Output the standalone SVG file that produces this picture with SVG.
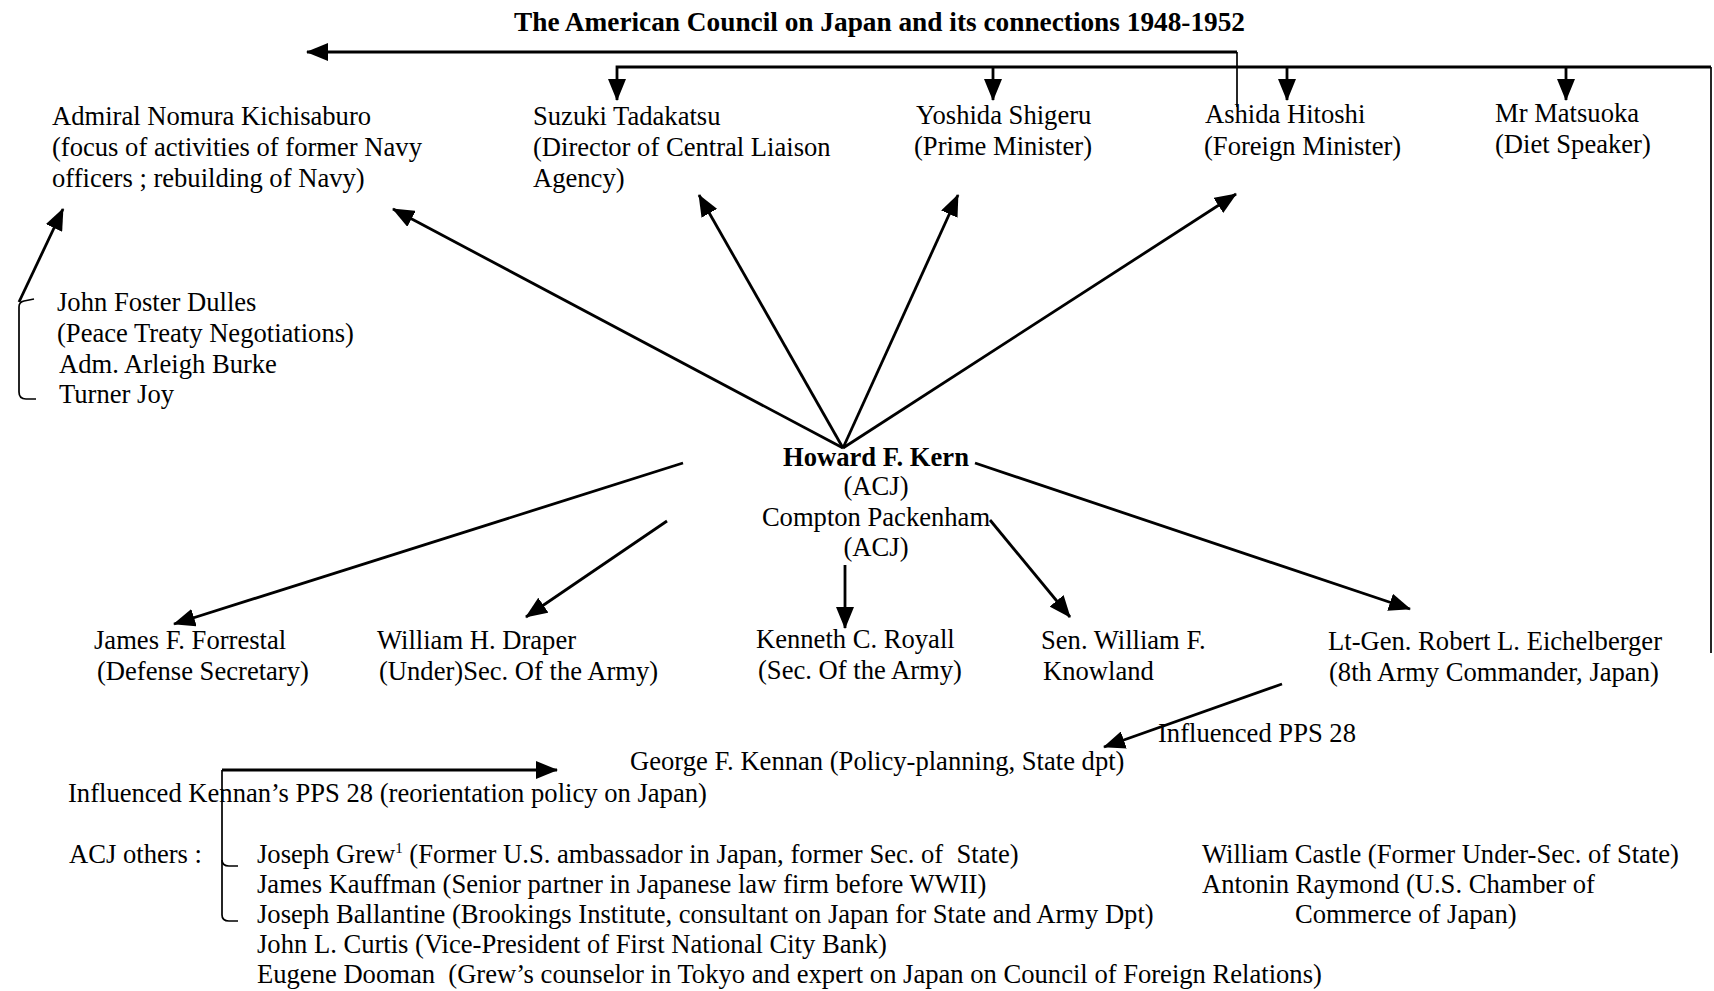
<svg xmlns="http://www.w3.org/2000/svg" width="1714" height="991" viewBox="0 0 1714 991">
<style>
.t{font-family:"Liberation Serif","Times New Roman",serif;font-size:26.6px;fill:#000}
.b{font-weight:bold}
.c{text-anchor:middle}
.pre{white-space:pre}
.ln{stroke:#000;stroke-width:2.8;fill:none}
.th{stroke:#000;stroke-width:1.7;fill:none}
</style>
<defs>
<marker id="ah" viewBox="0 0 22 18" refX="21" refY="9" markerWidth="22" markerHeight="18" markerUnits="userSpaceOnUse" orient="auto">
<path d="M0,0 L22,9 L0,18 z" fill="#000"/>
</marker>
</defs>
<rect width="1714" height="991" fill="#fff"/>

<g id="title"><text class="t b" x="514" y="31" style="font-size:27.3px">The American Council on Japan and its connections 1948-1952</text></g>

<g id="n-nomura" class="t">
<text x="52" y="125">Admiral Nomura Kichisaburo</text>
<text x="52" y="156">(focus of activities of former Navy</text>
<text x="52" y="187">officers ; rebuilding of Navy)</text>
</g>
<g id="n-suzuki" class="t">
<text x="533" y="125">Suzuki Tadakatsu</text>
<text x="533" y="156">(Director of Central Liaison</text>
<text x="533" y="187">Agency)</text>
</g>
<g id="n-yoshida" class="t">
<text x="916" y="124">Yoshida Shigeru</text>
<text x="914" y="155">(Prime Minister)</text>
</g>
<g id="n-ashida" class="t">
<text x="1205" y="123">Ashida Hitoshi</text>
<text x="1204" y="155">(Foreign Minister)</text>
</g>
<g id="n-matsuoka" class="t">
<text x="1495" y="122">Mr Matsuoka</text>
<text x="1495" y="153">(Diet Speaker)</text>
</g>
<g id="n-dulles" class="t">
<text x="57" y="311">John Foster Dulles</text>
<text x="57" y="342">(Peace Treaty Negotiations)</text>
<text x="59" y="373">Adm. Arleigh Burke</text>
<text x="59" y="403">Turner Joy</text>
</g>
<g id="n-kern" class="t c">
<text class="b" x="876" y="466">Howard F. Kern</text>
<text x="876" y="495">(ACJ)</text>
<text x="876" y="526">Compton Packenham</text>
<text x="876" y="556">(ACJ)</text>
</g>
<g id="n-forrestal" class="t">
<text x="94" y="649">James F. Forrestal</text>
<text x="97" y="680">(Defense Secretary)</text>
</g>
<g id="n-draper" class="t">
<text x="377" y="649">William H. Draper</text>
<text x="379" y="680">(Under)Sec. Of the Army)</text>
</g>
<g id="n-royall" class="t">
<text x="756" y="648">Kenneth C. Royall</text>
<text x="758" y="679">(Sec. Of the Army)</text>
</g>
<g id="n-knowland" class="t">
<text x="1041" y="649">Sen. William F.</text>
<text x="1043" y="680">Knowland</text>
</g>
<g id="n-eichelberger" class="t">
<text x="1328" y="650">Lt-Gen. Robert L. Eichelberger</text>
<text x="1329" y="681">(8th Army Commander, Japan)</text>
</g>
<g id="n-kennan" class="t">
<text x="630" y="770">George F. Kennan (Policy-planning, State dpt)</text>
</g>
<g id="n-influenced" class="t">
<text x="68" y="802">Influenced Kennan’s PPS 28 (reorientation policy on Japan)</text>
</g>
<g id="n-acj-others" class="t">
<text x="69" y="863">ACJ others :</text>
<text class="pre" x="257" y="863">Joseph Grew<tspan font-size="15" dy="-10">1</tspan><tspan dy="10"> (Former U.S. ambassador in Japan, former Sec. of  State)</tspan></text>
<text x="257" y="893">James Kauffman (Senior partner in Japanese law firm before WWII)</text>
<text x="257" y="923">Joseph Ballantine (Brookings Institute, consultant on Japan for State and Army Dpt)</text>
<text x="257" y="953">John L. Curtis (Vice-President of First National City Bank)</text>
<text class="pre" x="257" y="983">Eugene Dooman  (Grew’s counselor in Tokyo and expert on Japan on Council of Foreign Relations)</text>
<text x="1202" y="863">William Castle (Former Under-Sec. of State)</text>
<text x="1202" y="893">Antonin Raymond (U.S. Chamber of</text>
<text x="1295" y="923">Commerce of Japan)</text>
</g>

<g id="connectors">
<line class="th" x1="1237" y1="107" x2="1237" y2="52"/>
<line class="ln" x1="1237" y1="52" x2="307" y2="52" marker-end="url(#ah)"/>
<line class="th" x1="1711" y1="653" x2="1711" y2="67"/>
<path class="ln" d="M1711,67 H617 V100" marker-end="url(#ah)"/>
<line class="ln" x1="993" y1="67" x2="993" y2="100" marker-end="url(#ah)"/>
<line class="ln" x1="1287" y1="67" x2="1287" y2="100" marker-end="url(#ah)"/>
<line class="ln" x1="1566" y1="67" x2="1566" y2="100" marker-end="url(#ah)"/>

<line class="ln" x1="19" y1="302" x2="63" y2="209" marker-end="url(#ah)"/>
<path class="th" d="M34,299 L24,301 Q19,302 19,307 L19,392 Q19,399 26,399 L36,399"/>

<line class="ln" x1="843" y1="448" x2="393" y2="209" marker-end="url(#ah)"/>
<line class="ln" x1="843" y1="448" x2="699" y2="195" marker-end="url(#ah)"/>
<line class="ln" x1="843" y1="448" x2="958" y2="195" marker-end="url(#ah)"/>
<line class="ln" x1="843" y1="448" x2="1236" y2="194" marker-end="url(#ah)"/>

<line class="ln" x1="683" y1="463" x2="174" y2="624" marker-end="url(#ah)"/>
<line class="ln" x1="667" y1="521" x2="526" y2="617" marker-end="url(#ah)"/>
<line class="ln" x1="845" y1="565" x2="845" y2="628" marker-end="url(#ah)"/>
<line class="ln" x1="990" y1="520" x2="1070" y2="617" marker-end="url(#ah)"/>
<line class="ln" x1="975" y1="463" x2="1410" y2="609" marker-end="url(#ah)"/>
<line class="ln" x1="1282" y1="684" x2="1104" y2="747" marker-end="url(#ah)"/>
<g id="label-pps"><text class="t" x="1158" y="742">Influenced PPS 28</text></g>

<line class="ln" x1="222" y1="770" x2="557" y2="770" marker-end="url(#ah)"/>
<path class="th" d="M222,770 V915 Q222,921 229,921 L238,921"/>
<path class="th" d="M222,860 Q222,866 229,866 L238,866"/>
</g>
</svg>
